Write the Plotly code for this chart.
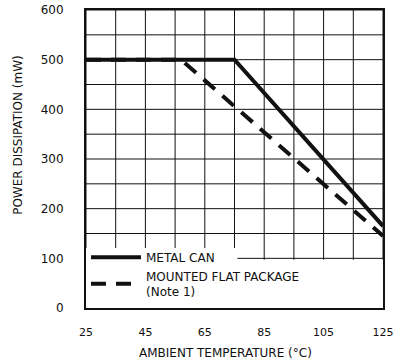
import plotly.graph_objects as go

# Data
metal_can_temp = [25, 75, 125]
metal_can_power = [500, 500, 165]
flat_pkg_temp = [25, 57, 125]
flat_pkg_power = [500, 500, 145]

x_tick_vals = [25, 45, 65, 85, 105, 125]
y_tick_vals = [0, 100, 200, 300, 400, 500, 600]

FONT = "DejaVu Sans"
INK = "#111111"

fig = go.Figure()
fig.add_trace(go.Scatter(
    x=metal_can_temp, y=metal_can_power, mode="lines",
    name="METAL CAN",
    line=dict(color=INK, width=4),
))
fig.add_trace(go.Scatter(
    x=flat_pkg_temp, y=flat_pkg_power, mode="lines",
    name="MOUNTED FLAT PACKAGE<br>(Note 1)",
    line=dict(color=INK, width=4, dash="15px,10px"),
))

fig.update_layout(
    width=394, height=364,
    margin=dict(l=86, r=11, t=10, b=56, autoexpand=False),
    paper_bgcolor="white", plot_bgcolor="white",
    font=dict(family=FONT, size=12, color=INK),
    showlegend=True,
    legend=dict(
        x=0.0, y=0.219, xanchor="left", yanchor="top",
        bgcolor="rgba(0,0,0,0)", borderwidth=0,
        font=dict(family=FONT, size=12, color=INK),
        itemwidth=50,
    ),
)

# grid drawn as shapes (below the data), every 10 degC and 50 mW
for gx in range(25, 126, 10):
    fig.add_shape(type="line", xref="x", yref="y domain", x0=gx, x1=gx, y0=0, y1=1,
                  line=dict(color=INK, width=1), layer="below")
for gy in range(0, 601, 50):
    fig.add_shape(type="line", xref="x domain", yref="y", x0=0, x1=1, y0=gy, y1=gy,
                  line=dict(color=INK, width=1), layer="below")

# white panel behind the legend (as in the reference)
fig.add_shape(type="rect", xref="x domain", yref="y", x0=0, x1=1, y0=0, y1=97,
              fillcolor="white", line=dict(width=0), layer="below")
fig.add_shape(type="rect", xref="x", yref="y", x0=25, x1=76, y0=95, y1=121,
              fillcolor="white", line=dict(width=0), layer="below")

fig.update_xaxes(
    range=[25, 125], tickvals=x_tick_vals, ticks="",
    ticklabelstandoff=13, ticklabeloverflow="allow", automargin=False,
    showgrid=False,
    showline=True, linecolor=INK, linewidth=2, mirror=True,
    zeroline=False,
    tickfont=dict(family=FONT, size=11, color=INK),
)
fig.update_yaxes(
    range=[0, 600], tickvals=y_tick_vals, ticks="",
    ticklabelstandoff=18, ticklabeloverflow="allow", automargin=False,
    showgrid=False,
    showline=True, linecolor=INK, linewidth=2, mirror=True,
    zeroline=False,
    tickfont=dict(family=FONT, size=12, color=INK),
)

fig.add_annotation(
    text="AMBIENT TEMPERATURE (°C)", xref="paper", yref="paper",
    x=0.47, y=-0.152, xanchor="center", yanchor="middle",
    showarrow=False, font=dict(family=FONT, size=12, color=INK),
)
fig.add_annotation(
    text="POWER DISSIPATION (mW)", xref="paper", yref="paper",
    x=-0.23, y=0.58, xanchor="center", yanchor="middle", textangle=-90,
    showarrow=False, font=dict(family=FONT, size=12, color=INK),
)

fig.write_html("out.html")
